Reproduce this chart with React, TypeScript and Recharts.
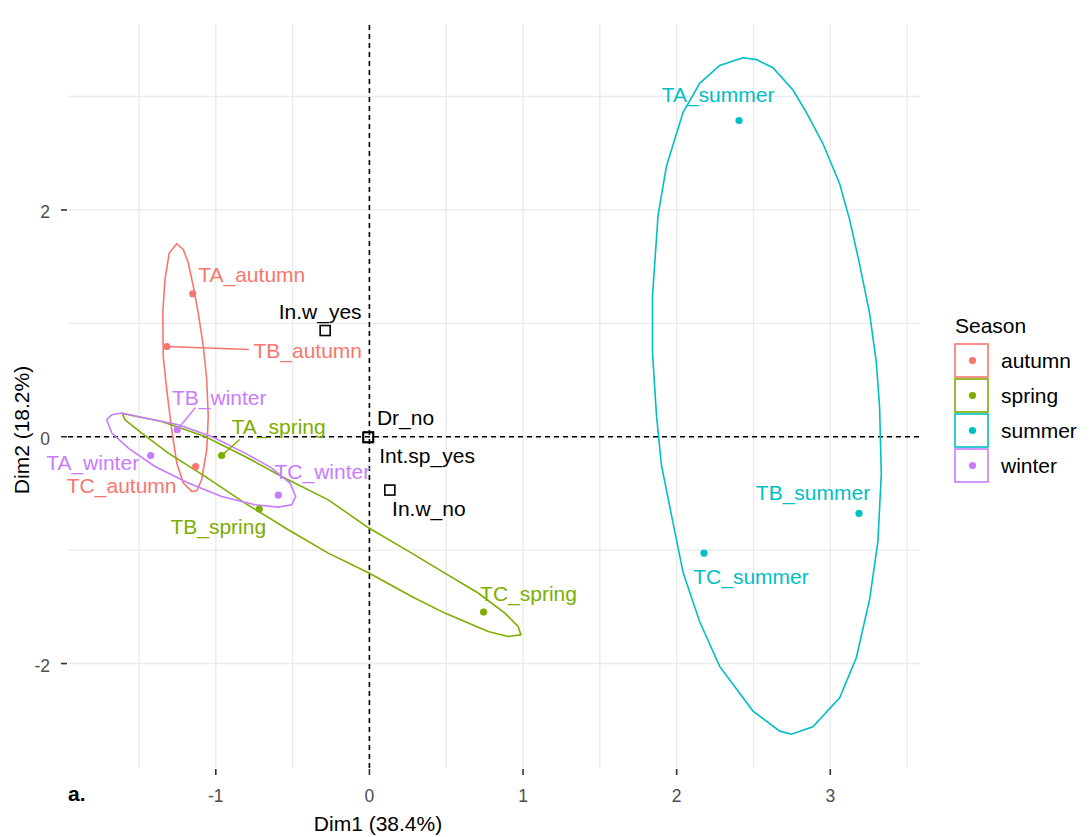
import React from 'react';
import { ScatterChart, Scatter, XAxis, YAxis, CartesianGrid, ReferenceLine, Legend } from 'recharts';

// ---------- data ----------
const seasons = ['autumn', 'spring', 'summer', 'winter'];

const autumnPoints = [
  { name: 'TA_autumn', x: -1.15, y: 1.261 },
  { name: 'TB_autumn', x: -1.319, y: 0.796 },
  { name: 'TC_autumn', x: -1.131, y: -0.262 },
];
const springPoints = [
  { name: 'TA_spring', x: -0.962, y: -0.165 },
  { name: 'TB_spring', x: -0.717, y: -0.638 },
  { name: 'TC_spring', x: 0.743, y: -1.546 },
];
const summerPoints = [
  { name: 'TA_summer', x: 2.406, y: 2.789 },
  { name: 'TB_summer', x: 3.187, y: -0.676 },
  { name: 'TC_summer', x: 2.178, y: -1.026 },
];
const winterPoints = [
  { name: 'TA_winter', x: -1.424, y: -0.165 },
  { name: 'TB_winter', x: -1.251, y: 0.062 },
  { name: 'TC_winter', x: -0.593, y: -0.514 },
];
const supplementaryPoints = [
  { name: 'In.w_yes', x: -0.288, y: 0.937 },
  { name: 'Dr_no', x: -0.006, y: -0.002 },
  { name: 'Int.sp_yes', x: -0.009, y: -0.007 },
  { name: 'In.w_no', x: 0.133, y: -0.47 },
];

// confidence ellipse outlines
const autumnEllipse = [
  [-1.254, 1.702], [-1.211, 1.649], [-1.179, 1.532], [-1.146, 1.325], [-1.114, 1.091],
  [-1.081, 0.796], [-1.059, 0.503], [-1.049, 0.179], [-1.059, -0.115], [-1.092, -0.379],
  [-1.124, -0.476], [-1.157, -0.482], [-1.211, -0.408], [-1.254, -0.232], [-1.287, 0.062],
  [-1.319, 0.414], [-1.342, 0.708], [-1.345, 1.091], [-1.331, 1.384], [-1.303, 1.62],
];
const springEllipse = [
  [-1.608, 0.203], [-1.569, 0.194], [-1.352, 0.135], [-1.07, 0.003], [-0.81, -0.174],
  [-0.571, -0.35], [-0.268, -0.556], [-0.003, -0.805], [0.275, -1.026], [0.491, -1.202],
  [0.708, -1.378], [0.882, -1.555], [0.968, -1.673], [0.986, -1.746], [0.903, -1.761],
  [0.773, -1.717], [0.491, -1.555], [0.275, -1.408], [-0.003, -1.202], [-0.268, -1.026],
  [-0.528, -0.82], [-0.81, -0.585], [-1.07, -0.35], [-1.309, -0.144], [-1.482, 0.033],
  [-1.591, 0.15],
];
const summerEllipse = [
  [2.432, 3.342], [2.28, 3.275], [2.15, 3.117], [2.042, 2.861], [1.934, 2.388],
  [1.879, 1.955], [1.843, 1.245], [1.843, 0.734], [1.869, 0.182], [1.901, -0.251],
  [1.977, -0.764], [2.042, -1.198], [2.15, -1.631], [2.28, -2.025], [2.497, -2.419],
  [2.671, -2.596], [2.747, -2.623], [2.887, -2.557], [3.061, -2.301], [3.17, -1.946],
  [3.256, -1.434], [3.31, -0.922], [3.332, -0.331], [3.321, 0.26], [3.3, 0.654],
  [3.256, 1.088], [3.191, 1.521], [3.126, 1.915], [3.061, 2.231], [2.952, 2.586],
  [2.844, 2.861], [2.757, 3.058], [2.627, 3.255], [2.519, 3.326],
];
const winterEllipse = [
  [-1.71, 0.15], [-1.677, 0.194], [-1.612, 0.209], [-1.461, 0.165], [-1.244, 0.106],
  [-1.027, 0.003], [-0.81, -0.144], [-0.636, -0.276], [-0.517, -0.408], [-0.48, -0.526],
  [-0.506, -0.6], [-0.593, -0.62], [-0.745, -0.6], [-0.962, -0.526], [-1.179, -0.408],
  [-1.396, -0.262], [-1.569, -0.1], [-1.677, 0.033],
];

const xTicks = [-1.5, -1, -0.5, 0, 0.5, 1, 1.5, 2, 2.5, 3, 3.5];
const xTickLabels = [-1, 0, 1, 2, 3];
const yTicks = [-2, -1, 0, 1, 2, 3];
const yTickLabels = [-2, 0, 2];
const xDomain = [-1.962, 3.584];
const yDomain = [-2.921, 3.64];

// ---------- style ----------
const seasonColors: Record<string, string> = {
  autumn: '#F8766D',
  spring: '#7CAE00',
  summer: '#00BFC4',
  winter: '#C77CFF',
};
const FONT = '"Liberation Sans", Arial, Helvetica, sans-serif';

// label placement (pixel offsets from the point: label centre, optional segment end)
const labelLayout: Record<string, { dx: number; dy: number; sx?: number; sy?: number }> = {
  TA_autumn: { dx: 59, dy: -19 },
  TB_autumn: { dx: 141, dy: 4, sx: 82, sy: 3 },
  TC_autumn: { dx: -74, dy: 19 },
  TA_spring: { dx: 57, dy: -29, sx: 18, sy: -16 },
  TB_spring: { dx: -41, dy: 17 },
  TC_spring: { dx: 45, dy: -19 },
  TA_summer: { dx: -21, dy: -26 },
  TB_summer: { dx: -46, dy: -21 },
  TC_summer: { dx: 47, dy: 23 },
  TA_winter: { dx: -58, dy: 7 },
  TB_winter: { dx: 42, dy: -32, sx: 18, sy: -22 },
  TC_winter: { dx: 44, dy: -24 },
  'In.w_yes': { dx: -5, dy: -19 },
  Dr_no: { dx: 37, dy: -20 },
  'Int.sp_yes': { dx: 59, dy: 18 },
  'In.w_no': { dx: 39, dy: 18 },
};

const toXY = (arr: number[][]) => arr.map(([x, y]) => ({ x, y }));

const makeShape = (color: string, square: boolean) => (props: any) => {
  const { cx, cy, payload } = props;
  if (cx == null || cy == null) return <g />;
  const lay = labelLayout[payload.name] || { dx: 0, dy: -18 };
  return (
    <g>
      {lay.sx !== undefined && (
        <line x1={cx} y1={cy} x2={cx + lay.sx} y2={cy + (lay.sy || 0)} stroke={color} strokeWidth={1.4} />
      )}
      {square ? (
        <rect x={cx - 5} y={cy - 5} width={10} height={10} fill="none" stroke="#000" strokeWidth={1.6} />
      ) : (
        <circle cx={cx} cy={cy} r={3.6} fill={color} />
      )}
      <text
        x={cx + lay.dx}
        y={cy + lay.dy}
        dy="0.36em"
        textAnchor="middle"
        fill={color}
        fontSize={21}
        fontFamily={FONT}
      >
        {payload.name}
      </text>
    </g>
  );
};

const emptyShape = () => <g />;

const PANEL_BOTTOM = 768;
const PANEL_LEFT = 68;

const XTick = (props: any) => {
  const { x, payload } = props;
  if (!xTickLabels.includes(payload.value)) return <g />;
  const y = PANEL_BOTTOM;
  return (
    <g>
      <line x1={x} x2={x} y1={y + 1} y2={y + 7} stroke="#333" strokeWidth={1.6} />
      <text x={x} y={y + 28} dy="0.36em" textAnchor="middle" fill="#4D4D4D" fontSize={17.5} fontFamily={FONT}>
        {String(payload.value)}
      </text>
    </g>
  );
};

const YTick = (props: any) => {
  const { y, payload } = props;
  if (!yTickLabels.includes(payload.value)) return <g />;
  const x = PANEL_LEFT;
  return (
    <g>
      <line x1={x - 7} x2={x - 1} y1={y} y2={y} stroke="#333" strokeWidth={1.6} />
      <text x={x - 18} y={y + 2} dy="0.36em" textAnchor="end" fill="#4D4D4D" fontSize={17.5} fontFamily={FONT}>
        {String(payload.value)}
      </text>
    </g>
  );
};

const renderLegend = () => (
  <svg width={141} height={200} style={{ display: 'block' }}>
    <text x={5} y={25} dy="0.36em" fontSize={21} fontFamily={FONT} fill="#000">
      Season
    </text>
    {seasons.map((s, i) => {
      const top = 44 + i * 35;
      return (
        <g key={s}>
          <rect x={5} y={top} width={33} height={33} fill="#fff" stroke={seasonColors[s]} strokeWidth={1.6} />
          <circle cx={22.5} cy={top + 16.5} r={3.6} fill={seasonColors[s]} />
          <text x={51} y={top + 16.5} dy="0.36em" fontSize={21} fontFamily={FONT} fill="#000">
            {s}
          </text>
        </g>
      );
    })}
  </svg>
);

const renderXTitle = () => (
  <g>
    <text x={378} y={823} dy="0.36em" textAnchor="middle" fontSize={21} fontFamily={FONT} fill="#000">
      Dim1 (38.4%)
    </text>
    <text x={68} y={793} dy="0.36em" textAnchor="start" fontSize={21} fontWeight="bold" fontFamily={FONT} fill="#000">
      a.
    </text>
  </g>
);

const renderYTitle = () => (
  <text
    x={21}
    y={430}
    dy="0.36em"
    textAnchor="middle"
    fontSize={21}
    fontFamily={FONT}
    fill="#000"
    transform="rotate(-90 21 430)"
  >
    Dim2 (18.2%)
  </text>
);

const pointSets = [
  { key: 'autumn', data: autumnPoints, ellipse: autumnEllipse },
  { key: 'spring', data: springPoints, ellipse: springEllipse },
  { key: 'summer', data: summerPoints, ellipse: summerEllipse },
  { key: 'winter', data: winterPoints, ellipse: winterEllipse },
];

export default function App() {
  return (
    <div style={{ position: 'absolute', left: 0, top: 0, width: 1091, height: 837, background: '#fff' }}>
      <ScatterChart width={1091} height={837} margin={{ top: 24, right: 171, bottom: 68, left: 67 }}>
        <CartesianGrid
          stroke="#EBEBEB"
          strokeWidth={1.4}
          syncWithTicks
          verticalValues={xTicks}
          horizontalValues={yTicks}
        />
        <XAxis
          type="number"
          dataKey="x"
          domain={xDomain}
          ticks={xTicks}
          interval={0}
          axisLine={false}
          tickLine={false}
          tickSize={0}
          tickMargin={0}
          height={1}
          tick={<XTick />}
          label={{ content: renderXTitle }}
        />
        <YAxis
          type="number"
          dataKey="y"
          domain={yDomain}
          ticks={yTicks}
          interval={0}
          axisLine={false}
          tickLine={false}
          tickSize={0}
          tickMargin={0}
          width={1}
          tick={<YTick />}
          label={{ content: renderYTitle }}
        />
        <ReferenceLine x={0} stroke="#000" strokeWidth={1.6} strokeDasharray="5 4" />
        <ReferenceLine y={0} stroke="#000" strokeWidth={1.6} strokeDasharray="5 4" />
        {pointSets.map((s) => (
          <Scatter
            key={s.key + '-ellipse'}
            name={s.key + '-ellipse'}
            data={toXY(s.ellipse)}
            line={{ stroke: seasonColors[s.key], strokeWidth: 1.6 }}
            lineJointType="linearClosed"
            shape={emptyShape}
            legendType="none"
            isAnimationActive={false}
          />
        ))}
        {pointSets.map((s) => (
          <Scatter
            key={s.key}
            name={s.key}
            data={s.data}
            fill={seasonColors[s.key]}
            shape={makeShape(seasonColors[s.key], false)}
            isAnimationActive={false}
          />
        ))}
        <Scatter
          name="supplementary"
          data={supplementaryPoints}
          fill="#000"
          shape={makeShape('#000', true)}
          legendType="none"
          isAnimationActive={false}
        />
        <Legend
          layout="vertical"
          align="center"
          verticalAlign="middle"
          content={renderLegend}
          wrapperStyle={{ position: 'absolute', left: 950, top: 300, width: 141, height: 200 }}
        />
      </ScatterChart>
    </div>
  );
}
